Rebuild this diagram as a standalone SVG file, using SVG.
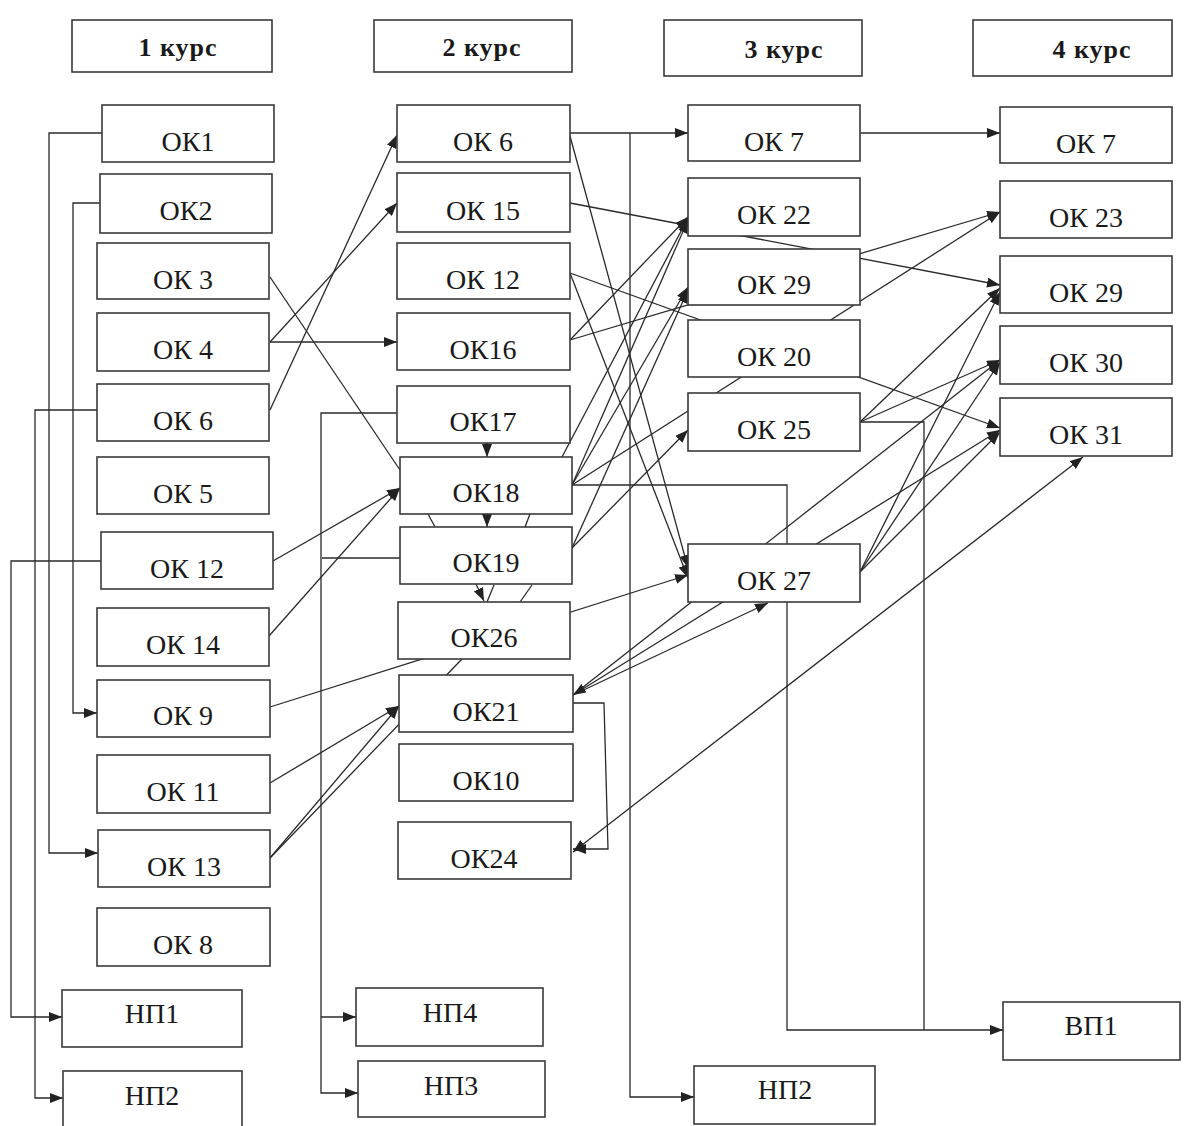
<svg xmlns="http://www.w3.org/2000/svg" width="1204" height="1126" viewBox="0 0 1204 1126">
<style>
.b{fill:#fff;stroke:#3a3a3a;stroke-width:1.6}
.t{font-family:"Liberation Serif","Times New Roman",serif;font-size:28px;fill:#1a1a1a;text-anchor:middle}
.h{font-family:"Liberation Serif","Times New Roman",serif;font-size:26px;font-weight:bold;fill:#1a1a1a;text-anchor:middle;letter-spacing:1px}
.c path{fill:none;stroke:#2a2a2a;stroke-width:1.3}
.a{marker-end:url(#ah)}
.s{marker-start:url(#ah)}
</style>
<defs>
<marker id="ah" markerUnits="userSpaceOnUse" markerWidth="14" markerHeight="10" refX="13" refY="5" orient="auto-start-reverse">
<path d="M0,0 L13,5 L0,10 z" fill="#222"/>
</marker>
</defs>
<rect width="1204" height="1126" fill="#fff"/>
<g id="connectors" class="c">
<path class="a" d="M102,133 H49 V853 H98"/>
<path class="a" d="M100,203 H73 V713 H97"/>
<path class="a" d="M97,410 H35 V1098 H63"/>
<path class="a" d="M101,561 H11 V1017 H62"/>
<path class="a" d="M397,413 H321 V1093 H358"/>
<path class="a" d="M321,1017 H356"/>
<path d="M322,558 H400"/>
<path class="a" d="M270,410 L397,135"/>
<path class="a" d="M270,342 L397,203"/>
<path class="a" d="M270,342 H397"/>
<path d="M270,277 L400,470"/>
<path class="a" d="M273,561 L400,488"/>
<path class="a" d="M269,636 L400,488"/>
<path class="a" d="M270,707 L688,575"/>
<path class="a" d="M270,783 L399,706"/>
<path class="a" d="M270,858 L399,706"/>
<path d="M270,858 L462,659"/>
<path class="a" d="M487,443 V457"/>
<path class="a" d="M487,514 V527"/>
<path d="M428,514 L435,527"/>
<path d="M530,514 L525,527"/>
<path class="a" d="M476,584 L484,601"/>
<path d="M494,585 L487,602"/>
<path d="M532,585 L520,602"/>
<path class="a" d="M570,133 H688"/>
<path class="a" d="M630,133 V1097 H694"/>
<path class="a" d="M570,136 L688,568"/>
<path class="a" d="M570,273 L688,578"/>
<path class="a" d="M570,203 L1000,285"/>
<path class="a" d="M570,273 L1000,428"/>
<path class="a" d="M570,340 L688,217"/>
<path class="a" d="M570,340 L1000,212"/>
<path class="a" d="M562,457 L688,218"/>
<path class="a" d="M572,485 L688,220"/>
<path class="a" d="M572,485 L688,287"/>
<path class="a" d="M572,485 L1000,212"/>
<path class="a" d="M572,485 H787 V1030 H1003"/>
<path class="a" d="M572,548 L688,430"/>
<path class="a" d="M572,548 L688,290"/>
<path class="a" d="M573,695 L768,603"/>
<path class="a" d="M573,695 L1000,360"/>
<path class="a s" d="M573,695 L1000,430"/>
<path class="a" d="M573,703 H604 L608,849 H573"/>
<path class="a s" d="M573,852 L1083,457"/>
<path class="a" d="M860,133 H1000"/>
<path class="a" d="M860,422 L1000,288"/>
<path class="a" d="M860,422 L1000,360"/>
<path d="M860,422 H924 V1030"/>
<path class="a" d="M860,572 L1000,292"/>
<path class="a" d="M860,572 L1000,362"/>
<path class="a" d="M860,572 L1000,432"/>
</g>
<g id="h1"><rect class="b" x="72" y="20" width="200" height="52"/><text class="h" x="178" y="56">1 курс</text></g>
<g id="h2"><rect class="b" x="374" y="20" width="198" height="52"/><text class="h" x="482" y="56">2 курс</text></g>
<g id="h3"><rect class="b" x="664" y="20" width="198" height="56"/><text class="h" x="784" y="58">3 курс</text></g>
<g id="h4"><rect class="b" x="973" y="20" width="199" height="56"/><text class="h" x="1092" y="58">4 курс</text></g>
<g id="c1_ok1"><rect class="b" x="102" y="105" width="172" height="57"/><text class="t" x="188" y="151">ОК1</text></g>
<g id="c1_ok2"><rect class="b" x="100" y="174" width="172" height="59"/><text class="t" x="186" y="220">ОК2</text></g>
<g id="c1_ok3"><rect class="b" x="97" y="243" width="172" height="56"/><text class="t" x="183" y="289">ОК 3</text></g>
<g id="c1_ok4"><rect class="b" x="97" y="313" width="172" height="58"/><text class="t" x="183" y="359">ОК 4</text></g>
<g id="c1_ok6"><rect class="b" x="97" y="384" width="172" height="57"/><text class="t" x="183" y="430">ОК 6</text></g>
<g id="c1_ok5"><rect class="b" x="97" y="457" width="172" height="57"/><text class="t" x="183" y="503">ОК 5</text></g>
<g id="c1_ok12"><rect class="b" x="101" y="532" width="172" height="57"/><text class="t" x="187" y="578">ОК 12</text></g>
<g id="c1_ok14"><rect class="b" x="97" y="608" width="172" height="58"/><text class="t" x="183" y="654">ОК 14</text></g>
<g id="c1_ok9"><rect class="b" x="97" y="680" width="173" height="57"/><text class="t" x="183" y="725">ОК 9</text></g>
<g id="c1_ok11"><rect class="b" x="97" y="755" width="173" height="58"/><text class="t" x="183" y="801">ОК 11</text></g>
<g id="c1_ok13"><rect class="b" x="98" y="830" width="172" height="57"/><text class="t" x="184" y="876">ОК 13</text></g>
<g id="c1_ok8"><rect class="b" x="97" y="908" width="173" height="58"/><text class="t" x="183" y="954">ОК 8</text></g>
<g id="c1_np1"><rect class="b" x="62" y="990" width="180" height="57"/><text class="t" x="152" y="1023">НП1</text></g>
<g id="c1_np2"><rect class="b" x="63" y="1071" width="179" height="57"/><text class="t" x="152" y="1105">НП2</text></g>
<g id="c2_ok6"><rect class="b" x="397" y="105" width="173" height="57"/><text class="t" x="483" y="151">ОК 6</text></g>
<g id="c2_ok15"><rect class="b" x="397" y="173" width="173" height="59"/><text class="t" x="483" y="220">ОК 15</text></g>
<g id="c2_ok12"><rect class="b" x="397" y="243" width="173" height="56"/><text class="t" x="483" y="289">ОК 12</text></g>
<g id="c2_ok16"><rect class="b" x="397" y="313" width="173" height="57"/><text class="t" x="483" y="359">ОК16</text></g>
<g id="c2_ok17"><rect class="b" x="397" y="386" width="173" height="57"/><text class="t" x="483" y="431">ОК17</text></g>
<g id="c2_ok18"><rect class="b" x="400" y="457" width="172" height="57"/><text class="t" x="486" y="502">ОК18</text></g>
<g id="c2_ok19"><rect class="b" x="400" y="527" width="172" height="57"/><text class="t" x="486" y="572">ОК19</text></g>
<g id="c2_ok26"><rect class="b" x="398" y="602" width="172" height="57"/><text class="t" x="484" y="647">ОК26</text></g>
<g id="c2_ok21"><rect class="b" x="399" y="675" width="174" height="57"/><text class="t" x="486" y="721">ОК21</text></g>
<g id="c2_ok10"><rect class="b" x="399" y="744" width="174" height="57"/><text class="t" x="486" y="790">ОК10</text></g>
<g id="c2_ok24"><rect class="b" x="398" y="822" width="173" height="57"/><text class="t" x="484" y="868">ОК24</text></g>
<g id="c2_np4"><rect class="b" x="356" y="988" width="187" height="58"/><text class="t" x="450" y="1022">НП4</text></g>
<g id="c2_np3"><rect class="b" x="358" y="1061" width="187" height="56"/><text class="t" x="451" y="1095">НП3</text></g>
<g id="c3_ok7"><rect class="b" x="688" y="105" width="172" height="56"/><text class="t" x="774" y="151">ОК 7</text></g>
<g id="c3_ok22"><rect class="b" x="688" y="178" width="172" height="58"/><text class="t" x="774" y="224">ОК 22</text></g>
<g id="c3_ok29"><rect class="b" x="688" y="249" width="172" height="56"/><text class="t" x="774" y="294">ОК 29</text></g>
<g id="c3_ok20"><rect class="b" x="688" y="320" width="172" height="57"/><text class="t" x="774" y="366">ОК 20</text></g>
<g id="c3_ok25"><rect class="b" x="688" y="393" width="172" height="58"/><text class="t" x="774" y="439">ОК 25</text></g>
<g id="c3_ok27"><rect class="b" x="688" y="544" width="172" height="58"/><text class="t" x="774" y="590">ОК 27</text></g>
<g id="c3_np2"><rect class="b" x="694" y="1066" width="181" height="58"/><text class="t" x="785" y="1099">НП2</text></g>
<g id="c4_ok7"><rect class="b" x="1000" y="107" width="172" height="56"/><text class="t" x="1086" y="153">ОК 7</text></g>
<g id="c4_ok23"><rect class="b" x="1000" y="181" width="172" height="57"/><text class="t" x="1086" y="227">ОК 23</text></g>
<g id="c4_ok29"><rect class="b" x="1000" y="256" width="172" height="57"/><text class="t" x="1086" y="302">ОК 29</text></g>
<g id="c4_ok30"><rect class="b" x="1000" y="326" width="172" height="58"/><text class="t" x="1086" y="372">ОК 30</text></g>
<g id="c4_ok31"><rect class="b" x="1000" y="398" width="172" height="58"/><text class="t" x="1086" y="444">ОК 31</text></g>
<g id="c4_vp1"><rect class="b" x="1003" y="1002" width="177" height="58"/><text class="t" x="1091" y="1035">ВП1</text></g>
</svg>
